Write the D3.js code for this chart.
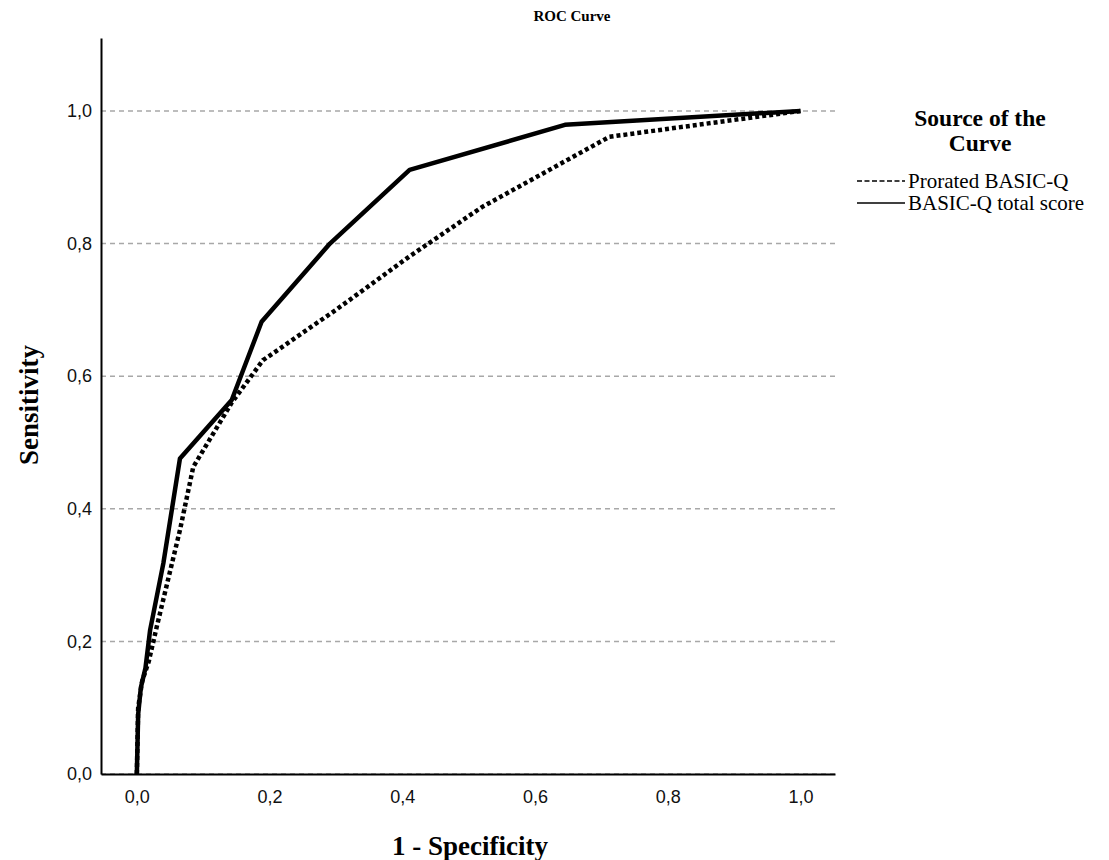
<!DOCTYPE html>
<html>
<head>
<meta charset="utf-8">
<script src="https://cdn.jsdelivr.net/npm/d3@7"></script>
<style>
  body { margin: 0; background: #fff; }
  svg { display: block; }
</style>
</head>
<body>
<svg id="chart"></svg>
<script>
const svg = d3.select("#chart");
const width = 1109;
const height = 860;

svg.attr("width", width).attr("height", height);

// 1 - specificity / sensitivity
const totalX = [0, 0.002, 0.006, 0.013, 0.02, 0.04, 0.065, 0.143, 0.188, 0.291, 0.411, 0.645, 1.0];
const totalY = [0, 0.09, 0.13, 0.16, 0.217, 0.318, 0.476, 0.564, 0.682, 0.80, 0.911, 0.979, 1.0];

const proratedX = [0, 0.002, 0.008, 0.018, 0.03, 0.065, 0.085, 0.143, 0.19, 0.30, 0.41, 0.52, 0.712, 1.0];
const proratedY = [0, 0.10, 0.14, 0.17, 0.222, 0.368, 0.463, 0.56, 0.624, 0.70, 0.78, 0.855, 0.961, 1.0];

const tickValues = [0, 0.2, 0.4, 0.6, 0.8, 1.0];
const seriesNames = ["Prorated BASIC-Q", "BASIC-Q total score"];

const fmt = d => d3.format(".1f")(d).replace(".", ",");
const serif = "Liberation Serif, Times New Roman, serif";

const x = d3.scaleLinear().domain([-0.054, 1.052]).range([101, 835]);
const y = d3.scaleLinear().domain([0, 1.11]).range([774, 38]);

// gridlines
svg.append("g")
    .selectAll("line")
    .data(tickValues)
    .enter()
    .append("line")
    .attr("x1", x(-0.054))
    .attr("x2", x(1.052))
    .attr("y1", d => y(d))
    .attr("y2", d => y(d))
    .attr("stroke", "#a8a8a8")
    .attr("stroke-width", 1.5)
    .attr("stroke-dasharray", "5,4");

// axes
const xAxis = svg.append("g")
    .attr("transform", `translate(0,${y(0)})`)
    .call(d3.axisBottom(x).tickValues(tickValues).tickSize(0).tickPadding(16).tickFormat(fmt));
const yAxis = svg.append("g")
    .attr("transform", `translate(${x(-0.054)},0)`)
    .call(d3.axisLeft(y).tickValues(tickValues).tickSize(0).tickPadding(9).tickFormat(fmt));

[xAxis, yAxis].forEach(g => {
    g.select(".domain").attr("stroke", "#000").attr("stroke-width", 2);
    g.selectAll("text")
        .attr("font-family", "Liberation Sans, Arial, sans-serif")
        .attr("font-size", 18)
        .attr("fill", "#111");
});

// curves
const line = d3.line()
    .x(d => x(d[0]))
    .y(d => y(d[1]));

svg.append("path")
    .datum(d3.zip(proratedX, proratedY))
    .attr("d", line)
    .attr("fill", "none")
    .attr("stroke", "#000")
    .attr("stroke-width", 4.5)
    .attr("stroke-dasharray", "4,3");

svg.append("path")
    .datum(d3.zip(totalX, totalY))
    .attr("d", line)
    .attr("fill", "none")
    .attr("stroke", "#000")
    .attr("stroke-width", 4.5)
    .attr("stroke-linejoin", "round");

// titles
svg.append("text")
    .attr("x", 572)
    .attr("y", 21)
    .attr("text-anchor", "middle")
    .attr("font-family", serif)
    .attr("font-weight", "bold")
    .attr("font-size", 15)
    .text("ROC Curve");

svg.append("text")
    .attr("x", 470)
    .attr("y", 855)
    .attr("text-anchor", "middle")
    .attr("font-family", serif)
    .attr("font-weight", "bold")
    .attr("font-size", 27)
    .text("1 - Specificity");

svg.append("text")
    .attr("transform", "translate(38,405) rotate(-90)")
    .attr("text-anchor", "middle")
    .attr("font-family", serif)
    .attr("font-weight", "bold")
    .attr("font-size", 27)
    .text("Sensitivity");

// legend
const legend = svg.append("g");
legend.selectAll(".ltitle")
    .data(["Source of the", "Curve"])
    .enter()
    .append("text")
    .attr("class", "ltitle")
    .attr("x", 980)
    .attr("y", (d, i) => 126 + i * 25)
    .attr("text-anchor", "middle")
    .attr("font-family", serif)
    .attr("font-weight", "bold")
    .attr("font-size", 23.5)
    .text(d => d);

const items = legend.selectAll(".item")
    .data(seriesNames)
    .enter()
    .append("g")
    .attr("class", "item")
    .attr("transform", (d, i) => `translate(857,${181 + i * 22})`);

items.append("line")
    .attr("x1", 0)
    .attr("x2", 48)
    .attr("stroke", "#000")
    .attr("stroke-width", 1.6)
    .attr("stroke-dasharray", (d, i) => i === 0 ? "5,2.5" : null);

items.append("text")
    .attr("x", 51)
    .attr("dy", "0.33em")
    .attr("font-family", serif)
    .attr("font-size", 21)
    .text(d => d);
</script>
</body>
</html>
